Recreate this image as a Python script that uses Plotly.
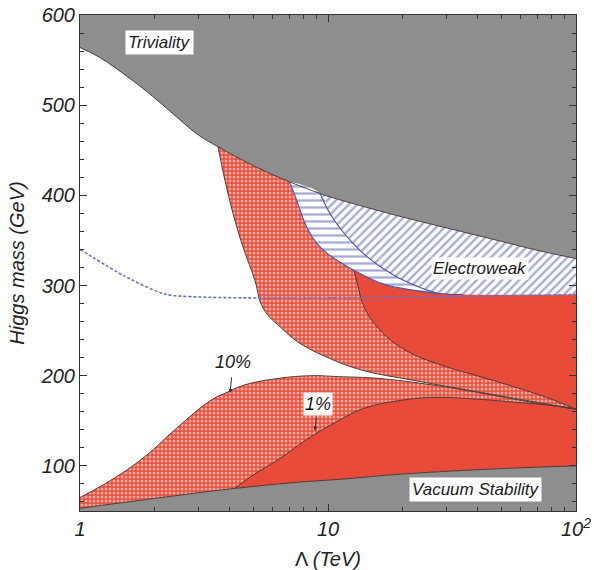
import numpy as np
import plotly.graph_objects as go

# ---------------- data ----------------
# Triviality (upper) bound
TRIV_L = [1, 1.2, 1.6, 2, 2.5, 3, 3.6, 5, 7, 9.3, 10, 16, 20, 30, 50, 70, 100]
TRIV_M = [564, 553, 529, 508, 485, 467, 454, 433, 415, 402, 399, 383, 376, 364, 349, 339, 330]
# Vacuum stability (lower) bound
VAC_L = [1, 2, 4.2, 7.7, 11, 20, 50, 100]
VAC_M = [53, 64, 75, 82, 85, 91, 97, 100]
# 10% fine-tuning, lower branch
TEN_LO_L = [1, 1.33, 1.82, 2.48, 3.38, 3.95, 4.63, 6.3, 8.5, 11, 16, 26, 41, 65, 100]
TEN_LO_M = [65, 84, 110, 143, 173, 182, 190, 197, 200, 199, 197, 190, 181, 171, 163]
# 1% fine-tuning, lower branch
ONE_LO_L = [4.2, 5, 6.3, 8.5, 11, 14, 20, 27, 40, 60, 80, 100]
ONE_LO_M = [75, 90, 107, 132, 150, 164, 173, 176, 174, 170, 167, 163]
# 10% fine-tuning, upper branch
TEN_UP_L = [3.6, 3.84, 4.14, 4.54, 5.07, 5.47, 6.6, 7.7, 10, 13.8, 22, 35, 56, 100]
TEN_UP_M = [454, 417, 380, 343, 306, 275, 251, 236, 220, 206, 195, 185, 175, 163]
# 1% fine-tuning, upper branch
ONE_UP_L = [12.7, 13.2, 13.8, 14.8, 15.8, 17.8, 22, 30, 41, 56, 76, 100]
ONE_UP_M = [317, 300, 280, 264, 254, 240, 224, 210, 199, 188, 176, 163]
# Electroweak region, lower boundary
EW_LO_L = [7.0, 7.4, 8.2, 9.0, 9.9, 12.7, 17, 22, 28, 35, 100]
EW_LO_M = [415, 398, 365, 347, 336, 317, 301, 295, 291, 290, 290]
# Electroweak region, divider between the two hatchings
EW_MID_L = [9.3, 10.5, 13.7, 18.3, 23, 28]
EW_MID_M = [402, 374, 337, 312, 299, 291]
# dotted blue line
DOT_L = [1, 1.5, 2.24, 100]
DOT_M = [340, 311, 290, 290]

X_RANGE = [1, 100]
Y_RANGE = [50, 600]
X_TICKS = [1, 10, 100]
X_TICKTEXT = ["1", "10", "10<sup>2</sup>"]
Y_TICKS = [100, 200, 300, 400, 500, 600]

# ---------------- styles ----------------
GREY = "#8e8e8e"
RED = "#e84b3a"
EDGE = "#4a3c3a"
BLUE = "#4a52a8"
HATCH = "#4f59ab"
FONT = "Liberation Sans"
SMOOTH = 1.15


def seg(xs, ys, lo, hi):
    px, py = [], []
    for a, b in zip(xs, ys):
        if lo <= a <= hi:
            px.append(a)
            py.append(b)
    return px, py


fig = go.Figure()


def band(xa, ya, xb, yb, **fillkw):
    """Fill the area between path A and path B (tonexty)."""
    fig.add_trace(go.Scatter(x=xa, y=ya, mode="lines",
                             line=dict(width=0, shape="spline", smoothing=SMOOTH),
                             hoverinfo="skip", showlegend=False))
    fig.add_trace(go.Scatter(x=xb, y=yb, mode="lines", fill="tonexty",
                             line=dict(width=0, shape="spline", smoothing=SMOOTH),
                             hoverinfo="skip", showlegend=False, **fillkw))


checker = dict(shape=".", bgcolor="#e94e3d", fgcolor="white", size=4, solidity=0.45)

# bottom grey (vacuum stability)
band(X_RANGE, [Y_RANGE[0]] * 2, VAC_L, VAC_M, fillcolor=GREY)
# top grey (triviality)
band(TRIV_L, TRIV_M, X_RANGE, [Y_RANGE[1]] * 2, fillcolor=GREY)
# lower 10% checker region
band(VAC_L, VAC_M, TEN_LO_L, TEN_LO_M, fillpattern=checker)
# lower 1% solid region
vx, vy = seg(VAC_L, VAC_M, ONE_LO_L[0], 100)
band(vx, vy, ONE_LO_L, ONE_LO_M, fillcolor=RED)
# upper 10% checker region
tx, ty = seg(TRIV_L, TRIV_M, TEN_UP_L[0], 100)
band(tx, ty, TEN_UP_L, TEN_UP_M, fillpattern=checker)
# upper 1% solid region
ex, ey = seg(EW_LO_L, EW_LO_M, ONE_UP_L[0], 100)
band(ex, ey, ONE_UP_L, ONE_UP_M, fillcolor=RED)
# electroweak region, diagonal hatch
tx, ty = seg(TRIV_L, TRIV_M, EW_LO_L[0], 100)
band(tx, ty, EW_LO_L, EW_LO_M,
     fillpattern=dict(shape="/", bgcolor="white", fgcolor=HATCH, size=6, solidity=0.4))
# electroweak region, horizontal hatch
tx, ty = seg(TRIV_L, TRIV_M, EW_LO_L[0], EW_MID_L[0] - 0.01)
ex, ey = seg(EW_LO_L, EW_LO_M, EW_LO_L[0], EW_MID_L[-1])
band(tx + EW_MID_L, ty + EW_MID_M, ex, ey,
     fillpattern=dict(shape="-", bgcolor="white", fgcolor=HATCH, size=7, solidity=0.33))

# outlines
for xs, ys in [(TRIV_L, TRIV_M), (VAC_L, VAC_M), (TEN_LO_L, TEN_LO_M),
               (ONE_LO_L, ONE_LO_M), (TEN_UP_L, TEN_UP_M), (ONE_UP_L, ONE_UP_M)]:
    fig.add_trace(go.Scatter(x=xs, y=ys, mode="lines",
                             line=dict(color=EDGE, width=1, shape="spline", smoothing=SMOOTH),
                             hoverinfo="skip", showlegend=False))
ex, ey = seg(EW_LO_L, EW_LO_M, EW_LO_L[0], 35)
for xs, ys in [(ex, ey), (EW_MID_L, EW_MID_M)]:
    fig.add_trace(go.Scatter(x=xs, y=ys, mode="lines",
                             line=dict(color=BLUE, width=1.1, shape="spline", smoothing=SMOOTH),
                             hoverinfo="skip", showlegend=False))
# dotted line
fig.add_trace(go.Scatter(x=DOT_L, y=DOT_M, mode="lines",
                         line=dict(color="#6a72c8", width=1.6, dash="3px,2px",
                                   shape="spline", smoothing=0.5),
                         hoverinfo="skip", showlegend=False))

# labels
lab_font = dict(family=FONT, size=17, color="#1a1a1a", style="italic")
fig.add_annotation(x=np.log10(2.1), y=570, text="Triviality", showarrow=False,
                   font=lab_font, bgcolor="white", borderpad=2)
fig.add_annotation(x=np.log10(41), y=319, text="Electroweak", showarrow=False,
                   font=lab_font, bgcolor="white", borderpad=1)
fig.add_annotation(x=np.log10(39.5), y=74, text="Vacuum Stability", showarrow=False,
                   font=lab_font, bgcolor="white", borderpad=2)
fig.add_annotation(x=np.log10(4.03), y=181, text="10%", showarrow=True, ax=3, ay=-31,
                   font=dict(family=FONT, size=18, color="#1a1a1a", style="italic"),
                   arrowhead=2, arrowsize=0.8, arrowwidth=1, arrowcolor="#333",
                   startstandoff=4)
fig.add_annotation(x=np.log10(8.86), y=139, text="1%", showarrow=True, ax=3, ay=-27,
                   font=dict(family=FONT, size=18, color="#1a1a1a", style="italic"),
                   arrowhead=2, arrowsize=0.8, arrowwidth=1, arrowcolor="#333",
                   bgcolor="white", startstandoff=2)

tick_font = dict(family=FONT, size=20, color="#222", style="italic")
fig.update_layout(
    width=594, height=570,
    margin=dict(l=80, r=18, t=15, b=59),
    paper_bgcolor="white", plot_bgcolor="white",
    showlegend=False,
)
fig.update_xaxes(
    type="log", range=[np.log10(X_RANGE[0]), np.log10(X_RANGE[1])],
    tickvals=X_TICKS, ticktext=X_TICKTEXT, tickfont=tick_font,
    ticks="inside", ticklen=7, tickcolor="#333",
    minor=dict(tickvals=[2, 3, 4, 5, 6, 7, 8, 9, 20, 30, 40, 50, 60, 70, 80, 90],
               ticks="inside", ticklen=4, tickcolor="#333", showgrid=False),
    showline=True, linecolor="#333", linewidth=1, mirror="ticks",
    showgrid=False, zeroline=False, automargin=False,
    title=dict(text="Λ <i>(TeV)</i>",
               font=dict(family=FONT, size=20, color="#222"), standoff=12),
)
fig.update_yaxes(
    range=Y_RANGE, tickvals=Y_TICKS, tickfont=tick_font,
    ticks="inside", ticklen=7, tickcolor="#333",
    minor=dict(dtick=20, ticks="inside", ticklen=4, tickcolor="#333", showgrid=False),
    showline=True, linecolor="#333", linewidth=1, mirror="ticks",
    showgrid=False, zeroline=False, automargin=False,
    title=dict(text="Higgs mass (GeV)", font=dict(family=FONT, size=20, color="#222",
                                                  style="italic"), standoff=10),
)

fig.write_html("out.html")
